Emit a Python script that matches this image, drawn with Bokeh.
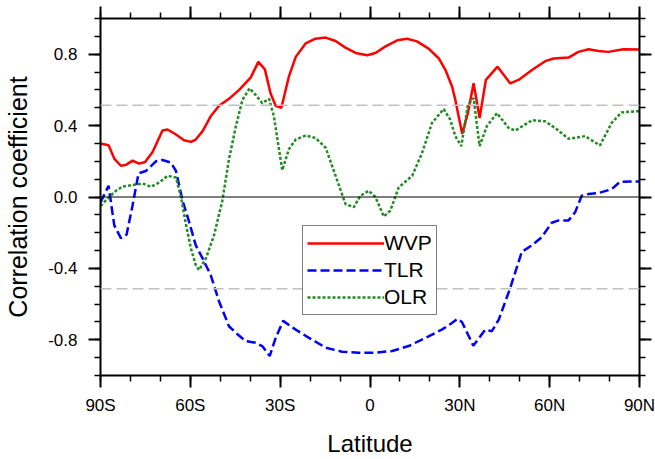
from bokeh.plotting import figure
from bokeh.models import (LinearAxis, FixedTicker, PrintfTickFormatter, Span,
                          Legend, LegendItem, Range1d)
from bokeh.embed import file_html
from bokeh.resources import INLINE

# Correlation of each quantity with latitude (deg; south negative)
wvp_lat = [-90, -87.3, -85.4, -83.2, -81.5, -79.3, -77.1, -75.1, -72.6, -69.3,
           -67.6, -64.8, -62.1, -59.8, -58.2, -55.9, -53.2, -50.4, -47.1, -43.7,
           -39.8, -37.3, -35.1, -33.2, -31.5, -29.6, -27.1, -24.8, -21.5, -18.2,
           -14.8, -11.5, -8.2, -4.8, -0.9, 1.8, 5.2, 9.1, 12.4, 15.7,
           19.6, 23.0, 25.2, 27.4, 28.5, 29.6, 30.8, 32.7, 34.6, 36.6,
           38.7, 42.6, 46.8, 49.6, 54.1, 58.5, 61.3, 66.3, 69.6, 73.0,
           76.3, 79.6, 84.6, 90]
wvp_r = [0.30, 0.29, 0.215, 0.175, 0.18, 0.204, 0.187, 0.196, 0.252, 0.372,
         0.378, 0.35, 0.318, 0.309, 0.322, 0.369, 0.452, 0.511, 0.55, 0.60,
         0.67, 0.757, 0.715, 0.58, 0.511, 0.50, 0.674, 0.785, 0.86, 0.887,
         0.893, 0.874, 0.837, 0.807, 0.794, 0.807, 0.844, 0.878, 0.887, 0.872,
         0.831, 0.776, 0.711, 0.619, 0.544, 0.452, 0.355, 0.47, 0.637, 0.443,
         0.656, 0.73, 0.637, 0.656, 0.711, 0.761, 0.776, 0.781, 0.813, 0.828,
         0.818, 0.813, 0.828, 0.826]

tlr_lat = [-90, -87.3, -85.4, -83.2, -81.3, -79.3, -77.3, -74.8, -71.5, -69.3,
           -66.5, -64.8, -62.6, -60.4, -58.2, -55.9, -53.2, -50.4, -47.1, -44.8,
           -41.5, -38.2, -36.0, -33.5, -31.5, -29.0, -24.8, -20.4, -14.8, -9.3,
           -3.7, 1.8, 7.4, 12.9, 18.5, 24.0, 27.0, 29.2, 30.7, 34.5,
           38.5, 40.7, 43.0, 46.8, 50.7, 54.1, 57.4, 60.7, 63.0, 66.3,
           68.5, 70.7, 73.0, 76.3, 80.7, 83.5, 90]
tlr_r = [-0.03, 0.063, -0.159, -0.23, -0.211, -0.048, 0.133, 0.146, 0.20, 0.207,
         0.193, 0.146, -0.02, -0.14, -0.27, -0.344, -0.437, -0.585, -0.724, -0.761,
         -0.807, -0.817, -0.835, -0.891, -0.789, -0.694, -0.743, -0.789, -0.844, -0.867,
         -0.872, -0.872, -0.863, -0.835, -0.789, -0.743, -0.71, -0.683, -0.70, -0.833,
         -0.743, -0.752, -0.687, -0.511, -0.307, -0.27, -0.224, -0.144, -0.131, -0.131,
         -0.085, 0.007, 0.017, 0.022, 0.044, 0.085, 0.087]

olr_lat = [-90, -87.1, -84.8, -82.6, -79.3, -76.0, -73.2, -70.4, -67.6, -64.8,
           -63.2, -61.5, -59.8, -58.2, -57.1, -54.8, -52.1, -49.3, -47.1, -44.8,
           -42.6, -40.2, -38.2, -36.0, -33.7, -32.1, -29.3, -27.1, -24.8, -21.5,
           -18.2, -14.8, -11.5, -8.2, -5.4, -3.2, -0.4, 1.8, 4.6, 6.8,
           9.6, 14.1, 17.4, 20.7, 24.6, 26.8, 28.5, 30.5, 32.7, 34.6,
           36.6, 39.0, 42.4, 46.3, 48.5, 54.1, 58.5, 61.8, 66.3, 71.8,
           76.8, 80.7, 84.0, 88.5, 90]
olr_r = [-0.05, 0.0, 0.035, 0.059, 0.067, 0.076, 0.057, 0.081, 0.119, 0.109,
         0.007, -0.15, -0.289, -0.381, -0.409, -0.344, -0.215, -0.02, 0.211, 0.396,
         0.544, 0.609, 0.572, 0.526, 0.55, 0.452, 0.15, 0.267, 0.322, 0.344,
         0.331, 0.276, 0.119, -0.039, -0.057, 0.007, 0.035, 0.0, -0.109, -0.076,
         0.054, 0.119, 0.248, 0.415, 0.493, 0.433, 0.341, 0.285, 0.517, 0.554,
         0.285, 0.396, 0.47, 0.387, 0.372, 0.43, 0.424, 0.387, 0.326, 0.341,
         0.289, 0.415, 0.474, 0.48, 0.48]

# significance threshold
sig_level = 0.514

x_ticks = [-90, -60, -30, 0, 30, 60, 90]
x_tick_labels = ["90S", "60S", "30S", "0", "30N", "60N", "90N"]
x_minor = list(range(-90, 91, 10))
y_ticks = [-0.8, -0.4, 0.0, 0.4, 0.8]
y_minor = [i / 10 for i in range(-10, 11)]

FONT = "Liberation Sans"

p = figure(width=655, height=459, output_backend="svg", toolbar_location=None,
           x_range=Range1d(-90, 90), y_range=Range1d(-1, 1),
           min_border_left=100, min_border_right=16,
           min_border_top=18, min_border_bottom=81,
           outline_line_color=None, background_fill_color="white",
           border_fill_color="white")
p.xgrid.visible = False
p.ygrid.visible = False

bottom = p.below[0]
left = p.left[0]
top = LinearAxis()
right = LinearAxis()
p.add_layout(top, "above")
p.add_layout(right, "right")


def style_axis(ax, ticks, minor):
    ax.ticker = FixedTicker(ticks=ticks, minor_ticks=minor)
    ax.axis_line_color = "black"
    ax.axis_line_width = 2
    ax.major_tick_line_color = "black"
    ax.major_tick_line_width = 2
    ax.minor_tick_line_color = "black"
    ax.minor_tick_line_width = 1.5
    ax.major_tick_out = 12
    ax.major_tick_in = 0
    ax.minor_tick_out = 6
    ax.minor_tick_in = 0
    ax.major_label_text_font = FONT
    ax.major_label_text_font_size = "17px"
    ax.major_label_text_color = "black"
    ax.axis_label_text_font = FONT
    ax.axis_label_text_font_style = "normal"
    ax.axis_label_text_color = "black"


for ax in (bottom, top):
    style_axis(ax, x_ticks, x_minor)
for ax in (left, right):
    style_axis(ax, y_ticks, y_minor)

bottom.major_label_overrides = dict(zip(x_ticks, x_tick_labels))
bottom.major_label_standoff = 8
bottom.axis_label = "Latitude"
bottom.axis_label_text_font_size = "24px"
bottom.axis_label_standoff = 12

left.formatter = PrintfTickFormatter(format="%.1f")
left.major_label_standoff = 11
left.axis_label = "Correlation coefficient"
left.axis_label_text_font_size = "25px"
left.axis_label_standoff = 13

for ax, ticks in ((top, x_ticks), (right, y_ticks)):
    ax.major_label_text_font_size = "0px"
    ax.major_label_standoff = 0
    ax.major_label_overrides = {t: "" for t in ticks}

# reference lines
p.add_layout(Span(location=0, dimension="width", line_color="black", line_width=1))
for lvl in (sig_level, -sig_level):
    p.add_layout(Span(location=lvl, dimension="width", line_color="#c0c0c0",
                      line_width=1.5, line_dash="11 5"))

r_wvp = p.line(wvp_lat, wvp_r, line_color="red", line_width=2.5)
r_tlr = p.line(tlr_lat, tlr_r, line_color="blue", line_width=2.5, line_dash="9 4")
r_olr = p.line(olr_lat, olr_r, line_color="#228b22", line_width=2.5, line_dash="3 2")

legend = Legend(items=[LegendItem(label="WVP", renderers=[r_wvp]),
                       LegendItem(label="TLR", renderers=[r_tlr]),
                       LegendItem(label="OLR", renderers=[r_olr])],
                location=(202, 60), orientation="vertical",
                label_text_font=FONT, label_text_font_size="21px",
                label_text_color="black", label_standoff=0,
                glyph_width=77, glyph_height=26, label_height=26,
                spacing=1, padding=4, margin=0,
                border_line_color="black", border_line_width=1,
                background_fill_color="white", background_fill_alpha=1)
p.add_layout(legend)

open("out.html", "w").write(file_html(p, INLINE))
